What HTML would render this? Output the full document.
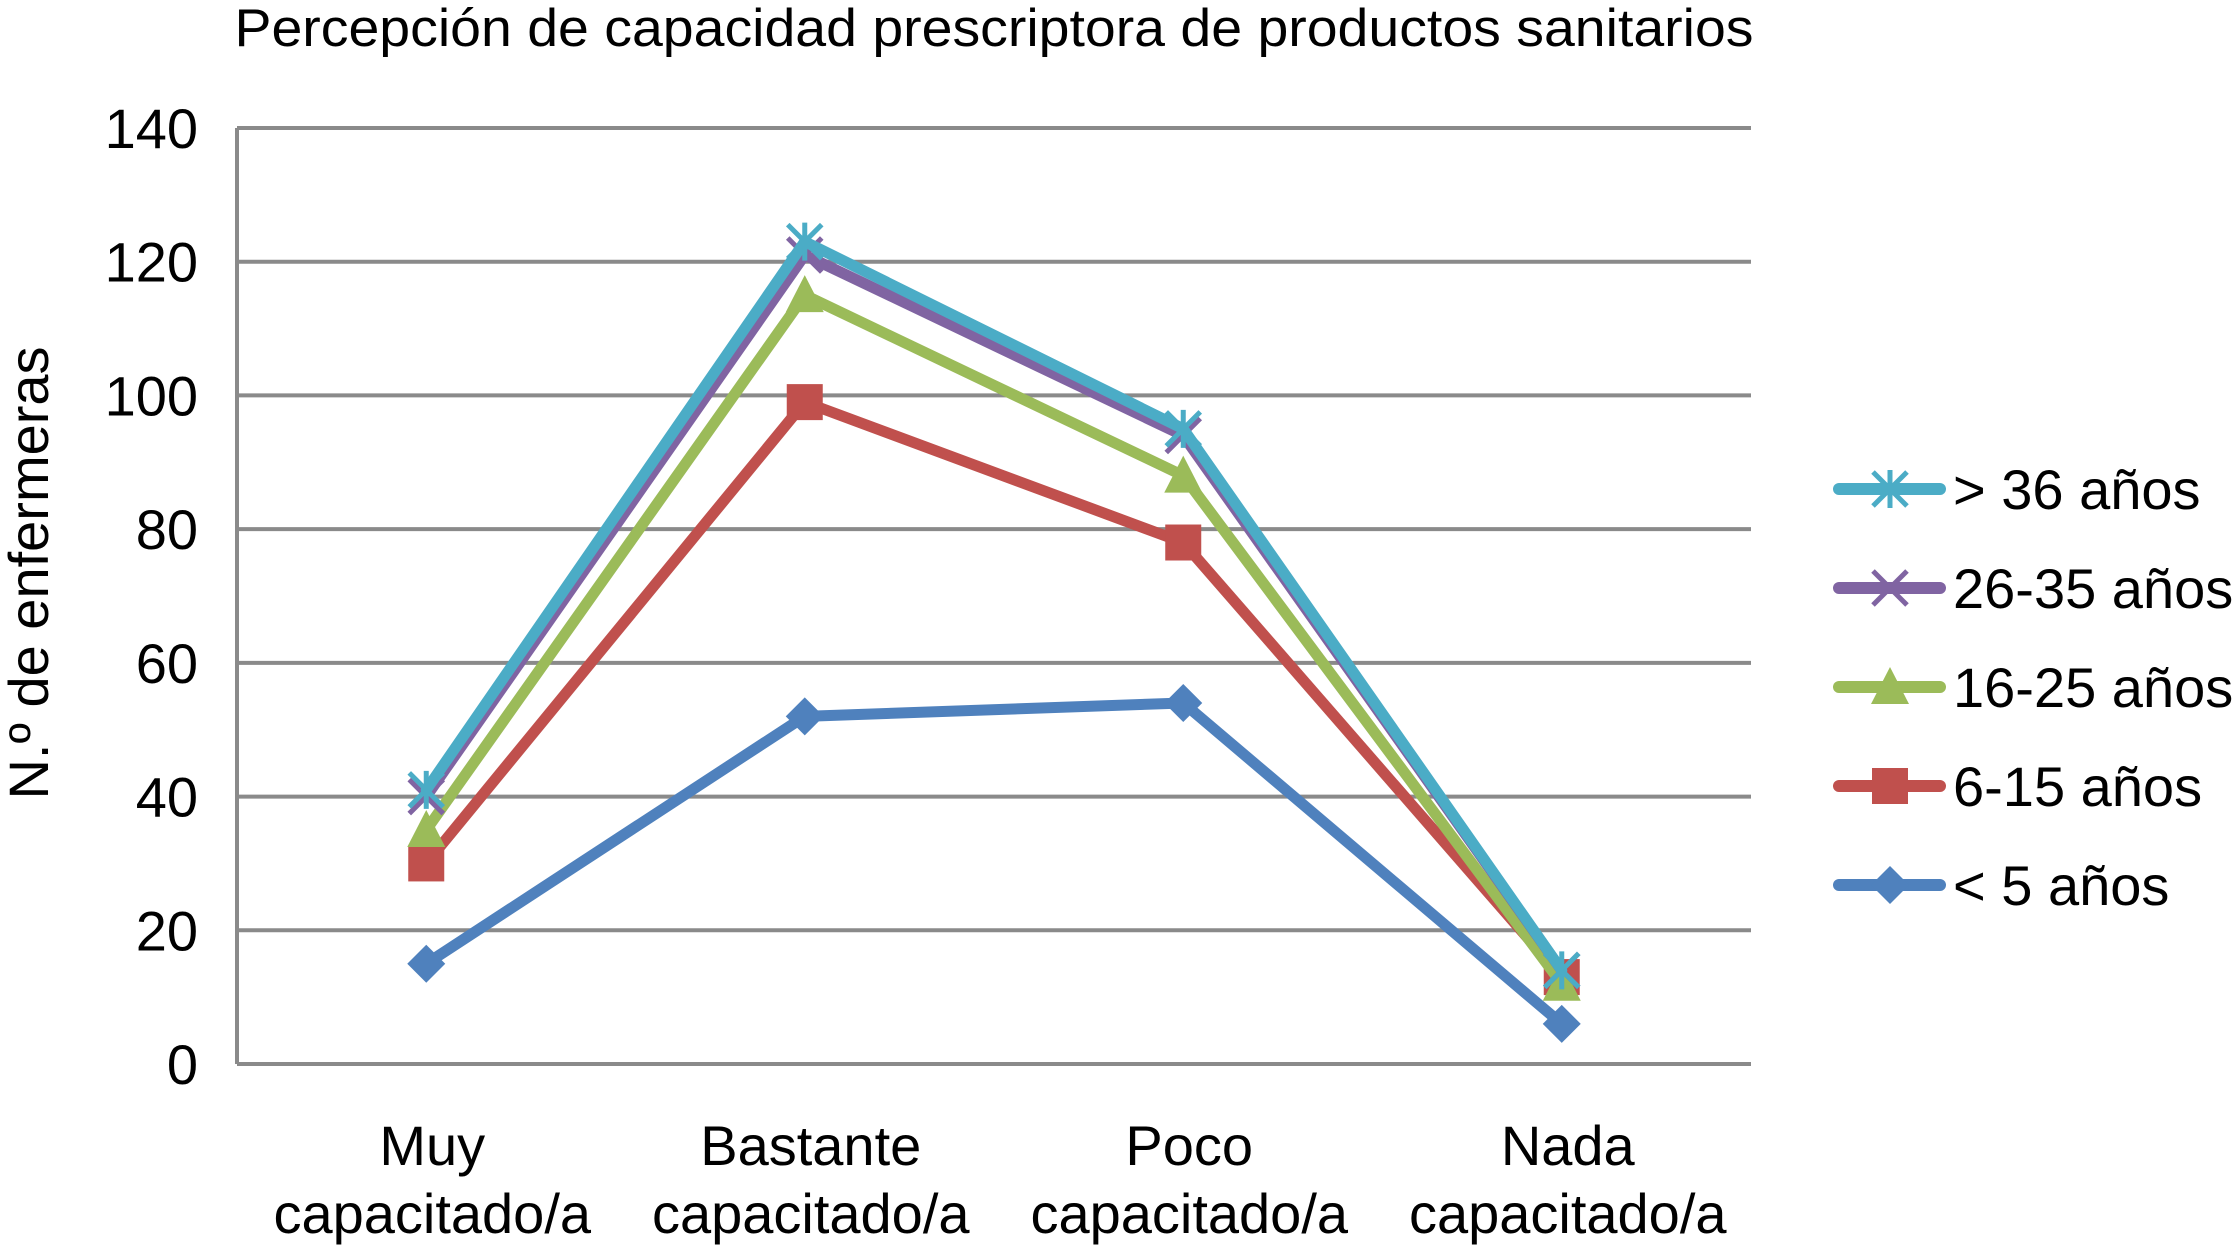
<!DOCTYPE html>
<html><head><meta charset="utf-8"><style>html,body{margin:0;padding:0;background:#fff}svg{display:block}</style></head>
<body>
<svg id="chart" width="2236" height="1257" viewBox="0 0 2236 1257" xmlns="http://www.w3.org/2000/svg" font-family="Liberation Sans, sans-serif">
<text x="994" y="46" font-size="53" text-anchor="middle" textLength="1519" lengthAdjust="spacingAndGlyphs" fill="#000">Percepción de capacidad prescriptora de productos sanitarios</text>
<text transform="translate(48,573) rotate(-90)" font-size="56" text-anchor="middle" fill="#000">N.º de enfermeras</text>
<g id="grid"></g><g id="series"></g><g id="legend"></g>
</svg>
<script>
const categories = [["Muy","capacitado/a"],["Bastante","capacitado/a"],["Poco","capacitado/a"],["Nada","capacitado/a"]];
const yTicks = [0,20,40,60,80,100,120,140];
const seriesNames = ["< 5 años","6-15 años","16-25 años","26-35 años","> 36 años"];
const s5 = [15,52,54,6];
const s6_15 = [30,99,78,13];
const s16_25 = [35,115,88,12];
const s26_35 = [40,121,94,14];
const s36 = [41,123,95,14];
const seriesValues = [s5,s6_15,s16_25,s26_35,s36];
const colors = ["#4f81bd","#c0504d","#9bbb59","#8064a2","#4bacc6"];
const markers = ["diamond","square","triangle","x","star"];
const NS="http://www.w3.org/2000/svg";
const L=237,R=1751,T=128,B=1064;
const yS=v=>B-(v/140)*(B-T);
const xS=i=>L+(i+0.5)*(R-L)/categories.length;
function mk(tag,attrs,parent){const e=document.createElementNS(NS,tag);for(const k in attrs)e.setAttribute(k,attrs[k]);parent.appendChild(e);return e;}
const grid=document.getElementById('grid');
yTicks.forEach(t=>{
  const l=mk('line',{x1:L,x2:R,y1:yS(t),y2:yS(t),stroke:'#8a8a8a','stroke-width':4},grid);
  
  
  const tx=mk('text',{x:198,y:yS(t)+20,'font-size':56,'text-anchor':'end'},grid);
  tx.textContent=t;
  
  
});
const ax=mk('line',{x1:L,x2:L,y1:T,y2:B,stroke:'#8a8a8a','stroke-width':4},grid);


categories.forEach((c,i)=>{
  c.forEach((ln,j)=>{
    const tx=mk('text',{x:xS(i)+6,y:1165+j*68,'font-size':56,'text-anchor':'middle'},grid);
    tx.textContent=ln;
    
    
  });
});
function marker(type,x,y,col,parent){
  let e;
  if(type==='diamond'){e=mk('polygon',{points:`${x},${y-19} ${x+19},${y} ${x},${y+19} ${x-19},${y}`,fill:col},parent);}
  else if(type==='square'){e=mk('rect',{x:x-18,y:y-18,width:36,height:36,fill:col},parent);}
  else if(type==='triangle'){e=mk('polygon',{points:`${x},${y-20} ${x+19},${y+17} ${x-19},${y+17}`,fill:col},parent);}
  else if(type==='x'){e=mk('path',{d:`M${x-17},${y-17}L${x+17},${y+17}M${x-17},${y+17}L${x+17},${y-17}`,stroke:col,'stroke-width':5,fill:'none'},parent);}
  else {e=mk('path',{d:`M${x-17},${y-17}L${x+17},${y+17}M${x-17},${y+17}L${x+17},${y-17}M${x},${y-19}L${x},${y+19}`,stroke:col,'stroke-width':5,fill:'none'},parent);}
  return e;
}
const sg=document.getElementById('series');
seriesValues.forEach((vals,si)=>{
  const g=mk('g',{},sg);
  
  
  const pl=mk('polyline',{points:vals.map((v,i)=>xS(i)+','+yS(v)).join(' '),fill:'none',stroke:colors[si],'stroke-width':11,'stroke-linejoin':'round','stroke-linecap':'round'},g);
  
  
  vals.forEach((v,i)=>{
    const m=marker(markers[si],xS(i),yS(v),colors[si],g);
    
    
  });
});
const lg=document.getElementById('legend');
[4,3,2,1,0].forEach((si,k)=>{
  const y=489+k*99;
  const g=mk('g',{},lg);
  
  
  mk('line',{x1:1839,x2:1940,y1:y,y2:y,stroke:colors[si],'stroke-width':12,'stroke-linecap':'round'},g);
  marker(markers[si],1890,y,colors[si],g);
  const t=mk('text',{x:1953,y:y+20,'font-size':56},g);
  t.textContent=seriesNames[si];
});
</script>
</body></html>
